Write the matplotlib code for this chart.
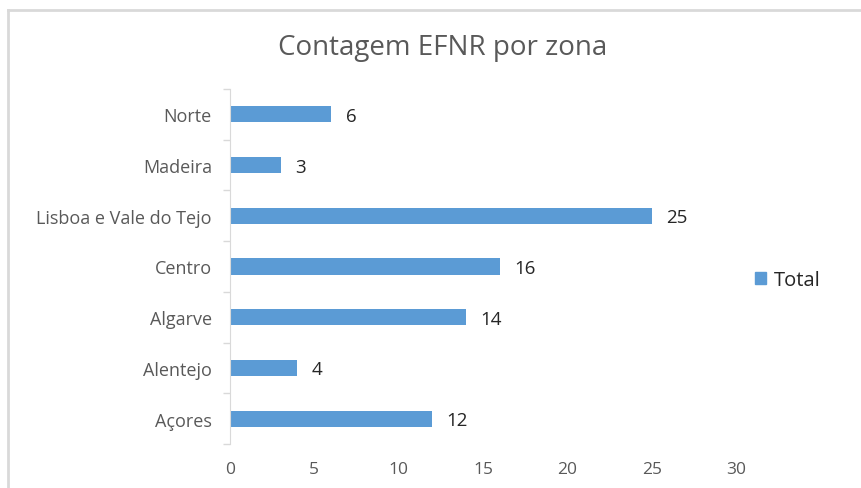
import numpy as np
import matplotlib.pyplot as plt
from matplotlib.lines import Line2D
from matplotlib.patches import Patch

zonas = ['Açores', 'Alentejo', 'Algarve', 'Centro', 'Lisboa e Vale do Tejo', 'Madeira', 'Norte']
total = [12, 4, 14, 16, 25, 3, 6]
xticks = [0, 5, 10, 15, 20, 25, 30]

plt.rcParams['font.family'] = ['Open Sans', 'DejaVu Sans']
bar_color = '#5B9BD5'
txt_color = '#595959'

W, H = 862, 489
fig = plt.figure(figsize=(W / 100, H / 100), dpi=100)
ax = fig.add_axes([230 / W, 1 - 445 / H, (736 - 230) / W, (445 - 90) / H])

y = np.arange(len(zonas))
ax.barh(y, total, height=0.32, color=bar_color)
for yi, v in zip(y, total):
    ax.text(v + 0.85, yi - 0.03, str(v), va='center', ha='left', fontsize=13.5, color='#262626')

ax.set_xlim(0, 30)
ax.set_ylim(-0.5, len(zonas) - 0.5)
ax.set_yticks(y)
ax.set_yticklabels(zonas, fontsize=13, color=txt_color)
ax.set_yticks(np.arange(len(zonas) + 1) - 0.5, minor=True)
ax.tick_params(axis='y', which='major', length=0, pad=13)
ax.tick_params(axis='y', which='minor', length=5, color='#D9D9D9', width=1)
ax.set_xticks(xticks)
ax.tick_params(axis='x', length=0, labelsize=12.5, labelcolor=txt_color, pad=12)
for s in ['top', 'right', 'bottom']:
    ax.spines[s].set_visible(False)
ax.spines['left'].set_color('#D9D9D9')

fig.text(443 / W, 1 - 48 / H, 'Contagem EFNR por zona', ha='center', va='center',
         fontsize=20, color=txt_color)

leg = fig.legend(handles=[Patch(color=bar_color, label='Total')], loc='center left',
                 bbox_to_anchor=(737 / W, 1 - 281 / H), frameon=False, fontsize=14.5,
                 handlelength=0.55, handleheight=0.55, handletextpad=0.4)
for t in leg.get_texts():
    t.set_color('#262626')

# outer chart frame (top and left visible)
fig.add_artist(Line2D([8 / W, 1], [1 - 11 / H, 1 - 11 / H], color='#D9D9D9', lw=2))
fig.add_artist(Line2D([8 / W, 8 / W], [0, 1 - 11 / H], color='#D9D9D9', lw=2))

fig.savefig('out.png', dpi=100, facecolor='white')
